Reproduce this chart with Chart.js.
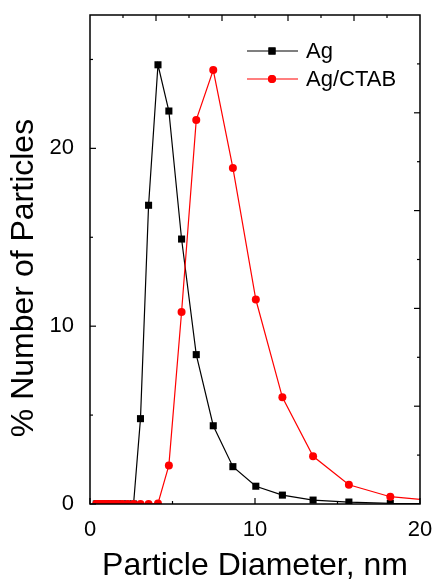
<!DOCTYPE html>
<html>
<head>
<meta charset="utf-8">
<script src="https://cdn.jsdelivr.net/npm/chart.js@4"></script>
<style>
  html, body { margin: 0; padding: 0; background: #fff; }
  #wrap { width: 434px; height: 581px; }
</style>
</head>
<body>
<div id="wrap"><canvas id="sizeChart"></canvas></div>
<script>
// bin centres, nm
const diameters = [0.38, 0.44, 0.52, 0.6, 0.69, 0.8, 0.93, 1.08, 1.26, 1.46, 1.69, 1.96, 2.28, 2.64,
  3.06, 3.55, 4.12, 4.78, 5.55, 6.44, 7.47, 8.66, 10.05, 11.66, 13.52, 15.69, 18.2, 21.1];
const agValues = [0, 0, 0, 0, 0, 0, 0, 0, 0, 0, 0, 0, 0, 0,
  4.8, 16.8, 24.7, 22.1, 14.9, 8.4, 4.4, 2.1, 1.0, 0.5, 0.22, 0.11, 0.04, 0.02];
const agCtabValues = [0, 0, 0, 0, 0, 0, 0, 0, 0, 0, 0, 0, 0, 0,
  0, 0, 0.03, 2.17, 10.8, 21.6, 24.4, 18.9, 11.5, 6.0, 2.68, 1.08, 0.41, 0.17];

const xLabels = [0, 10, 20];
const yLabels = [0, 10, 20];
const xMinor = [5, 15];
const yMinor = [5, 15, 25];
const topMajor = [4, 8, 12, 16];
const topMinor = [2, 6, 10, 14, 18];
const rightMajor = [5.5, 11, 16.5, 22];
const rightMinor = [2.75, 8.25, 13.75, 19.25, 24.75];

const FONT = '"Liberation Sans", Arial, sans-serif';

function pts(vals) {
  return diameters.map((d, i) => ({ x: d, y: vals[i] }));
}

function noPad(s) {
  s.paddingLeft = 0; s.paddingRight = 0; s.paddingTop = 0; s.paddingBottom = 0;
}

// frame, inward ticks, titles and legend
const decor = {
  id: 'decor',
  afterDraw(chart) {
    const { ctx, chartArea: a, scales } = chart;
    const sx = scales.x, sy = scales.y;
    ctx.save();
    ctx.strokeStyle = '#000';
    ctx.lineWidth = 1.5;
    ctx.strokeRect(a.left, a.top, a.right - a.left, a.bottom - a.top);

    ctx.lineWidth = 1.2;
    const tick = (x1, y1, x2, y2) => {
      ctx.beginPath(); ctx.moveTo(x1, y1); ctx.lineTo(x2, y2); ctx.stroke();
    };
    xLabels.forEach(v => { const p = sx.getPixelForValue(v); tick(p, a.bottom, p, a.bottom - 6); });
    xMinor.forEach(v => { const p = sx.getPixelForValue(v); tick(p, a.bottom, p, a.bottom - 3); });
    yLabels.forEach(v => { const p = sy.getPixelForValue(v); tick(a.left, p, a.left + 6, p); });
    yMinor.forEach(v => { const p = sy.getPixelForValue(v); tick(a.left, p, a.left + 3, p); });
    topMajor.forEach(v => { const p = sx.getPixelForValue(v); tick(p, a.top, p, a.top + 6); });
    topMinor.forEach(v => { const p = sx.getPixelForValue(v); tick(p, a.top, p, a.top + 3); });
    rightMajor.forEach(v => { const p = sy.getPixelForValue(v); tick(a.right, p, a.right - 6, p); });
    rightMinor.forEach(v => { const p = sy.getPixelForValue(v); tick(a.right, p, a.right - 3, p); });

    // axis titles
    ctx.fillStyle = '#000';
    ctx.font = '32px ' + FONT;
    ctx.textAlign = 'center';
    ctx.textBaseline = 'alphabetic';
    ctx.fillText('Particle Diameter, nm', (a.left + a.right) / 2, 575);
    ctx.save();
    ctx.translate(33, 278);
    ctx.rotate(-Math.PI / 2);
    ctx.fillText('% Number of Particles', 0, 0);
    ctx.restore();

    // legend
    const rows = [
      { label: 'Ag', color: '#000', y: 51, style: 'rect', r: 5 },
      { label: 'Ag/CTAB', color: '#ff0000', y: 79, style: 'circle', r: 4 }
    ];
    ctx.font = '22px ' + FONT;
    ctx.textAlign = 'left';
    ctx.textBaseline = 'middle';
    rows.forEach(row => {
      ctx.strokeStyle = row.color;
      ctx.lineWidth = 1.2;
      tick(247, row.y, 298, row.y);
      ctx.fillStyle = row.color;
      Chart.helpers.drawPoint(ctx, { pointStyle: row.style, radius: row.r, rotation: 0 }, 272, row.y);
      ctx.fill();
      ctx.fillStyle = '#000';
      ctx.fillText(row.label, 306, row.y + 1);
    });
    ctx.restore();
  }
};

const ctx = document.getElementById('sizeChart').getContext('2d');
const sizeChart = new Chart(ctx, {
  type: 'line',
  data: {
    datasets: [
      {
        label: 'Ag',
        data: pts(agValues),
        borderColor: '#000',
        backgroundColor: '#000',
        borderWidth: 1.2,
        pointStyle: 'rect',
        pointRadius: 5,
        pointBorderWidth: 0,
        clip: 0,
        order: 1
      },
      {
        label: 'Ag/CTAB',
        data: pts(agCtabValues),
        borderColor: '#ff0000',
        backgroundColor: '#ff0000',
        borderWidth: 1.2,
        pointStyle: 'circle',
        pointRadius: 4,
        pointBorderWidth: 0,
        clip: 0,
        order: 0
      }
    ]
  },
  options: {
    responsive: true,
    maintainAspectRatio: false,
    animation: false,
    layout: { padding: { top: 15, right: 14, left: 0, bottom: 0 } },
    plugins: { legend: { display: false }, tooltip: { enabled: false } },
    scales: {
      x: {
        type: 'linear',
        min: 0,
        max: 20,
        grid: { display: false },
        border: { display: false },
        afterBuildTicks: s => { s.ticks = xLabels.map(v => ({ value: v })); },
        afterFit: s => { s.height = 77; noPad(s); },
        ticks: { color: '#000', padding: 5, maxRotation: 0, font: { family: FONT, size: 22 } }
      },
      y: {
        min: 0,
        max: 27.5,
        grid: { display: false },
        border: { display: false },
        afterBuildTicks: s => { s.ticks = yLabels.map(v => ({ value: v })); },
        afterFit: s => { s.width = 90; noPad(s); },
        ticks: { color: '#000', padding: 8, font: { family: FONT, size: 22 } }
      }
    }
  },
  plugins: [decor]
});
</script>
</body>
</html>
